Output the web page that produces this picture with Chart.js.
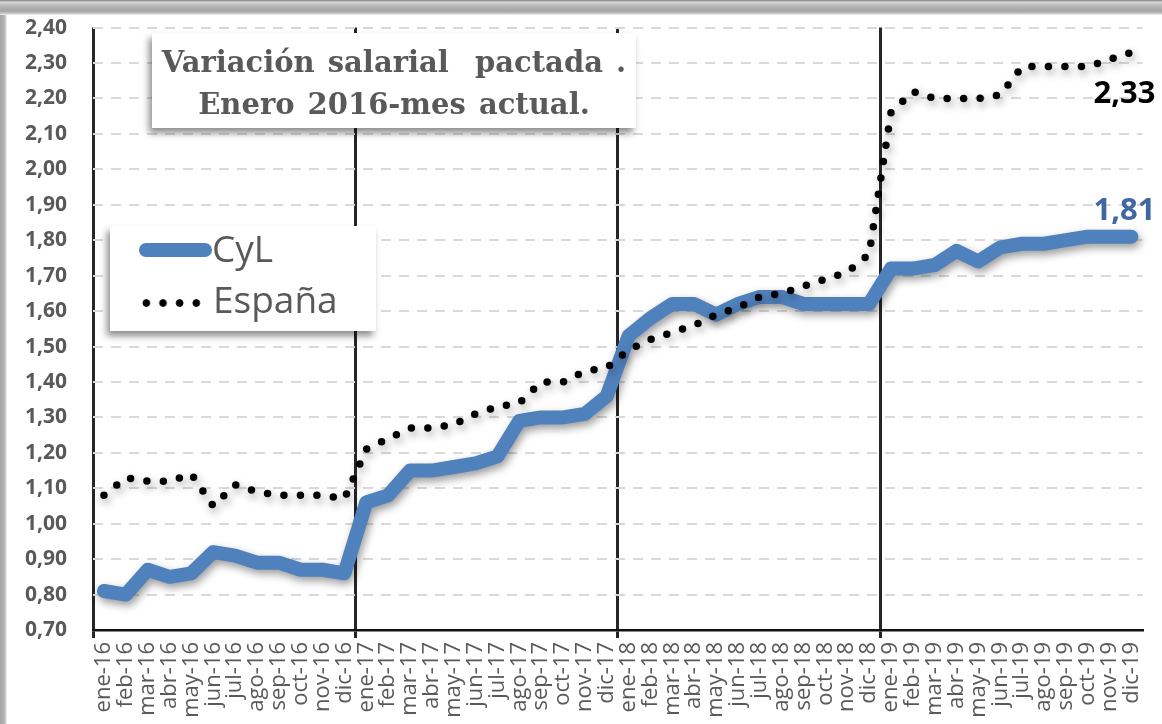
<!DOCTYPE html>
<html lang="es">
<head>
<meta charset="utf-8">
<title>Variación salarial pactada</title>
<script src="https://cdn.jsdelivr.net/npm/chart.js@4.4.1/dist/chart.umd.min.js"></script>
<style>
  html, body { margin: 0; padding: 0; }
  body { width: 1162px; height: 724px; overflow: hidden; position: relative; background: #fff; }
  #bordeSup { position: absolute; left: 0; top: 0; width: 1162px; height: 15px;
    background: linear-gradient(to bottom, #7d7d7d 0, #d6d6d6 2px, #bdbdbd 5px, #a3a3a3 11px, #cfcfcf 14px, #ffffff 15px); }
  #bordeIzq { position: absolute; left: 0; top: 15px; width: 7px; height: 709px;
    background: linear-gradient(to right, #a5a5a5 0, #b0b0b0 4px, #d8d8d8 6px, #ffffff 7px); }
  #marco { position: absolute; left: 7px; top: 15px; width: 1155px; height: 709px; background: #fff; }
  #grafico { position: absolute; left: 0; top: 0; }
  .caja { position: absolute; background: #fff; box-shadow: -3px 5px 7px rgba(0, 0, 0, .45); }
  #titulo { left: 145px; top: 18px; width: 484px; height: 95px; font-family: "DejaVu Serif", serif;
    font-weight: bold; font-size: 29px; color: #595959; text-align: center; line-height: 42px;
    padding-top: 8px; box-sizing: border-box; white-space: pre; word-spacing: 3px; }
  #leyenda { left: 103px; top: 211px; width: 266px; height: 105px; font-family: "Open Sans", sans-serif;
    color: #595959; font-size: 37px; line-height: 37px; }
  #leyenda .txt { position: absolute; white-space: nowrap; }
  #muestraCyl { position: absolute; left: 29px; top: 17px; width: 73px; height: 14px; border-radius: 7px; background: #4f81bd; }
  #muestraEsp { position: absolute; left: 28px; top: 73px; width: 67px; height: 8px;
    background: radial-gradient(circle at center, #000 3.4px, rgba(0,0,0,0) 4.2px); background-size: 16.67px 8px; }
</style>
</head>
<body>
<div id="bordeSup"></div>
<div id="bordeIzq"></div>
<div id="marco">
  <canvas id="grafico" width="1155" height="709"></canvas>
  <div id="titulo" class="caja">Variación salarial  pactada .
Enero 2016-mes actual.</div>
  <div id="leyenda" class="caja">
    <div id="muestraCyl"></div><div class="txt" style="left:102px; top:3px;">CyL</div>
    <div id="muestraEsp"></div><div class="txt" style="left:103px; top:54px;">España</div>
  </div>
</div>
<script>
// datos
const meses = ['ene', 'feb', 'mar', 'abr', 'may', 'jun', 'jul', 'ago', 'sep', 'oct', 'nov', 'dic'];
const anios = ['16', '17', '18', '19'];
const categorias = anios.flatMap(a => meses.map(m => m + '-' + a));

const cyl = [
    0.81, 0.80, 0.87, 0.85, 0.86, 0.92, 0.91, 0.89, 0.89, 0.87, 0.87, 0.86,
    1.06, 1.08, 1.15, 1.15, 1.16, 1.17, 1.19, 1.29, 1.30, 1.30, 1.31, 1.36,
    1.53, 1.58, 1.62, 1.62, 1.59, 1.62, 1.64, 1.64, 1.62, 1.62, 1.62, 1.62,
    1.72, 1.72, 1.73, 1.77, 1.74, 1.78, 1.79, 1.79, 1.80, 1.81, 1.81, 1.81
];
const espana = [
    1.08, 1.13, 1.12, 1.12, 1.14, 1.05, 1.11, 1.09, 1.08, 1.08, 1.08, 1.07,
    1.21, 1.24, 1.27, 1.27, 1.28, 1.31, 1.33, 1.34, 1.40, 1.40, 1.43, 1.44,
    1.49, 1.52, 1.54, 1.56, 1.59, 1.61, 1.64, 1.65, 1.67, 1.69, 1.71, 1.76,
    2.16, 2.22, 2.20, 2.20, 2.20, 2.21, 2.29, 2.29, 2.29, 2.29, 2.31, 2.33
];
const ticksY = [0.70, 0.80, 0.90, 1.00, 1.10, 1.20, 1.30, 1.40, 1.50, 1.60, 1.70, 1.80, 1.90, 2.00, 2.10, 2.20, 2.30, 2.40];

function formatoComa(v) {
    return Number(v).toFixed(2).replace('.', ',');
}

var colorAnio = function (c) {
    return c.index % 12 === 0 ? '#262626' : 'rgba(0,0,0,0)';
};

// sombra suave bajo las lineas
const sombra = {
    id: 'sombra',
    beforeDatasetDraw(chart) {
        const c = chart.ctx;
        c.save();
        c.shadowColor = 'rgba(0,0,0,0.4)';
        c.shadowBlur = 8;
        c.shadowOffsetX = 2;
        c.shadowOffsetY = 4;
    },
    afterDatasetDraw(chart) {
        chart.ctx.restore();
    }
};

// valor del ultimo mes junto a cada serie
const ultimoValor = {
    id: 'ultimoValor',
    afterDatasetsDraw(chart) {
        const c = chart.ctx;
        chart.data.datasets.forEach((ds, i) => {
            const meta = chart.getDatasetMeta(i);
            const p = meta.data[meta.data.length - 1];
            c.save();
            c.font = 'bold 31px "Open Sans"';
            c.fillStyle = ds.colorEtiqueta;
            c.textAlign = 'right';
            c.textBaseline = 'alphabetic';
            c.fillText(formatoComa(ds.data[ds.data.length - 1]), p.x + 24, p.y + ds.desplEtiqueta);
            c.restore();
        });
    }
};

var ctx = document.getElementById('grafico').getContext('2d');

var grafico = new Chart(ctx, {
    type: 'line',
    data: {
        labels: categorias,
        datasets: [
            {
                label: 'España',
                data: espana,
                order: 0,
                borderColor: '#000000',
                borderWidth: 7.5,
                borderDash: [0, 16.5],
                borderCapStyle: 'round',
                borderJoinStyle: 'round',
                pointRadius: 0,
                tension: 0,
                colorEtiqueta: '#000000',
                desplEtiqueta: 51
            },
            {
                label: 'CyL',
                data: cyl,
                order: 1,
                borderColor: '#4f81bd',
                borderWidth: 14,
                borderCapStyle: 'round',
                borderJoinStyle: 'round',
                pointRadius: 0,
                tension: 0,
                colorEtiqueta: '#4066a4',
                desplEtiqueta: -17
            }
        ]
    },
    options: {
        responsive: false,
        devicePixelRatio: 1,
        animation: false,
        layout: {
            padding: { top: 12, right: 16, left: 0, bottom: 0 }
        },
        scales: {
            x: {
                offset: true,
                afterFit: s => { s.height = 94; },
                grid: {
                    offset: true,
                    lineWidth: 3,
                    color: colorAnio,
                    tickColor: colorAnio,
                    tickLength: 8,
                    tickWidth: 3
                },
                border: { display: true, color: '#111111', width: 2.5 },
                ticks: {
                    autoSkip: false,
                    minRotation: 90,
                    maxRotation: 90,
                    padding: 4,
                    color: '#595959',
                    font: { family: 'Open Sans', size: 22 }
                }
            },
            y: {
                min: 0.7,
                max: 2.4,
                afterBuildTicks: s => { s.ticks = ticksY.map(v => ({ value: v })); },
                afterFit: s => { s.width = 86; },
                grid: {
                    color: '#d9d9d9',
                    lineWidth: 2,
                    drawTicks: true,
                    tickLength: 26,
                    tickColor: 'rgba(0,0,0,0)'
                },
                border: { display: false, dash: [10, 8] },
                ticks: {
                    padding: 0,
                    color: '#595959',
                    font: { family: 'Open Sans', weight: 'bold', size: 21 },
                    callback: v => formatoComa(v)
                }
            }
        },
        plugins: {
            legend: { display: false },
            tooltip: { enabled: false }
        }
    },
    plugins: [sombra, ultimoValor]
});
</script>
</body>
</html>
